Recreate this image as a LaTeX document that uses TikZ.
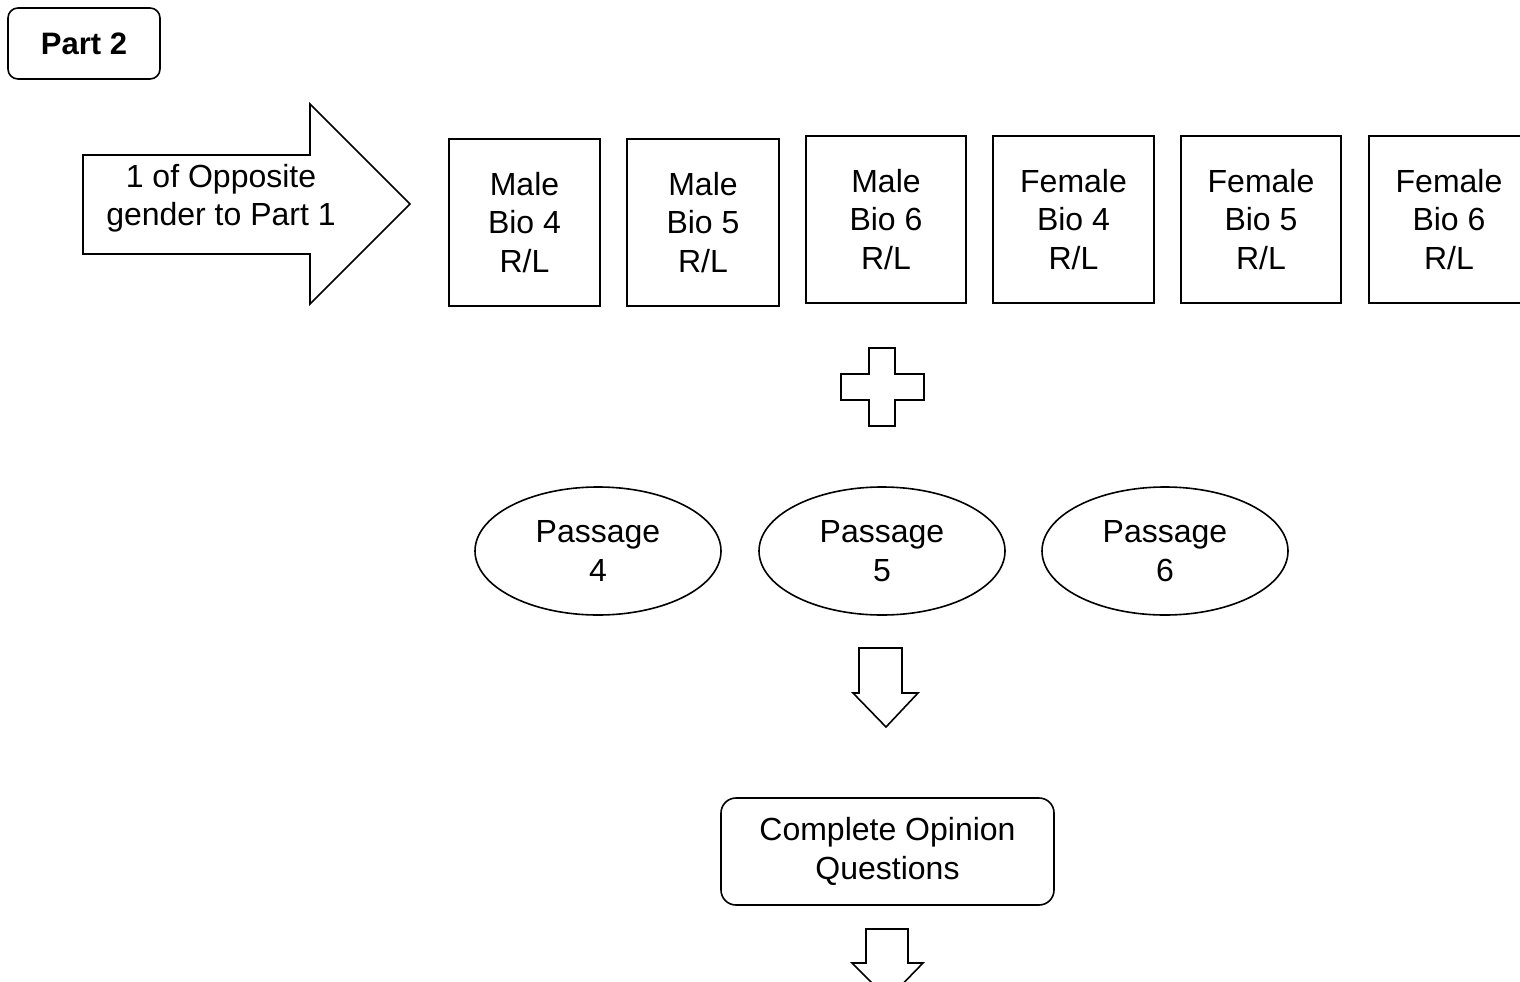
\documentclass[tikz,border=0pt]{standalone}
\usepackage{fontspec}
\setmainfont{Liberation Sans}
\usetikzlibrary{shapes.geometric}
\begin{document}
\begin{tikzpicture}[x=1pt,y=-1pt,line width=1.6pt,line join=miter,
  txt/.style={font=\fontsize{32}{38.4}\selectfont,align=center,inner sep=0pt},
  biobox/.style={draw,rectangle,txt,minimum height=167pt},
  passage/.style={draw,ellipse,txt,minimum width=246pt,minimum height=128pt},
  blockarrow/.style={draw,fill=white}]
\useasboundingbox (0,0) rectangle (1520,982);
\clip (0,0) rectangle (1520,982);
% Part 2 label
\node[draw,rounded corners=10pt,minimum width=152pt,minimum height=71pt,inner sep=0pt,
  font=\fontsize{31}{37}\selectfont\bfseries] (part) at (84,43.5) {Part 2};
% big right arrow
\draw[blockarrow] (83,155) -- (310,155) -- (310,104) -- (410,204) -- (310,304) -- (310,254) -- (83,254) -- cycle;
\node[txt] (arrtxt) at (221,198) {1 of Opposite\\gender to Part 1};
% bio boxes
\node[biobox,minimum width=151pt] (mb4) at (524.5,222.5) {Male\\Bio 4\\R/L};
\node[biobox,minimum width=152pt] (mb5) at (703,222.5) {Male\\Bio 5\\R/L};
\node[biobox,minimum width=160pt] (mb6) at (886,219.5) {Male\\Bio 6\\R/L};
\node[biobox,minimum width=161pt] (fb4) at (1073.5,219.5) {Female\\Bio 4\\R/L};
\node[biobox,minimum width=160pt] (fb5) at (1261,219.5) {Female\\Bio 5\\R/L};
\node[biobox,minimum width=160pt] (fb6) at (1449,219.5) {Female\\Bio 6\\R/L};
% plus sign
\draw[blockarrow] (869,348) -- (895,348) -- (895,374) -- (924,374) -- (924,400) -- (895,400)
  -- (895,426) -- (869,426) -- (869,400) -- (841,400) -- (841,374) -- (869,374) -- cycle;
% passages
\node[passage] (p4) at (598,551) {Passage\\4};
\node[passage] (p5) at (882,551) {Passage\\5};
\node[passage] (p6) at (1165,551) {Passage\\6};
% down arrow 1
\draw[blockarrow] (859,648) -- (902,648) -- (902,693) -- (918,693) -- (886,727) -- (853,693) -- (859,693) -- cycle;
% opinion box
\node[draw,rounded corners=15pt,txt,minimum width=333pt,minimum height=107pt] (op) at (887.5,851.5) {Complete Opinion\\Questions};
% down arrow 2
\draw[blockarrow] (866,929) -- (908,929) -- (908,963) -- (923,963) -- (888,999) -- (852,963) -- (866,963) -- cycle;
\end{tikzpicture}
\end{document}
